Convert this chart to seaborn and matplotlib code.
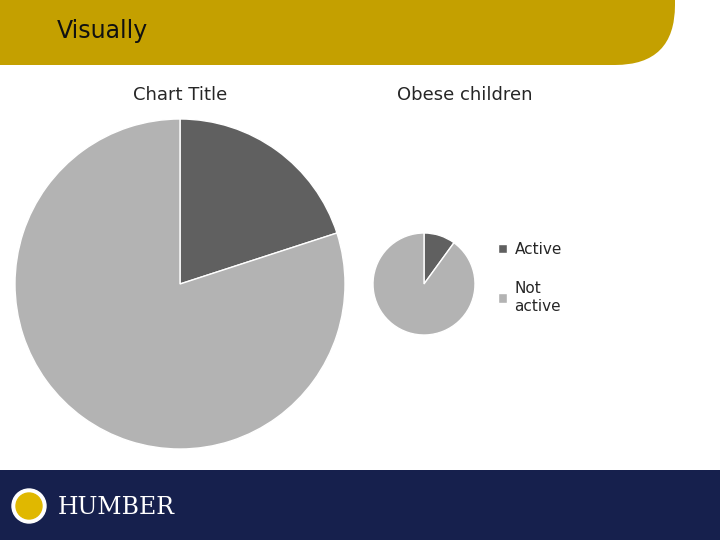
import matplotlib
matplotlib.use("Agg")
import matplotlib.pyplot as plt
import seaborn as sns
from matplotlib.patches import FancyBboxPatch, Rectangle, Circle

sns.set_theme(style="white")
plt.rcParams['font.family'] = ['DejaVu Sans']

labels = ["Active", "Not active"]
chart_title_vals = [20, 80]
obese_vals = [10, 90]
colors = ["#606060", "#b3b3b3"]

fig = plt.figure(figsize=(7.2, 5.4), dpi=100)

# header and footer
bg = fig.add_axes([0, 0, 1, 1])
bg.set_xlim(0, 720)
bg.set_ylim(540, 0)
bg.axis("off")
bg.add_patch(FancyBboxPatch((-60, -60), 735, 125, boxstyle="round,pad=0,rounding_size=60",
                            color="#c4a000", lw=0))
bg.add_patch(Rectangle((0, 470), 720, 70, color="#16204d", lw=0))
bg.add_patch(Circle((29, 506), 17, color="white"))
bg.add_patch(Circle((29, 506), 13, color="#e0b800"))
bg.text(58, 507, "HUMBER", color="white", fontsize=17, family="serif",
        va="center", ha="left")
bg.text(57, 31, "Visually", fontsize=17, color="#111111", va="center")

# left pie
ax1 = fig.add_axes([15 / 720, 1 - 449 / 540, 330 / 720, 330 / 540])
ax1.pie(chart_title_vals, colors=colors, startangle=90, counterclock=False,
        wedgeprops=dict(edgecolor="white", linewidth=1))
ax1.set_xlim(-1, 1)
ax1.set_ylim(-1, 1)
ax1.set_aspect("equal")
fig.text(180 / 720, 1 - 95 / 540, "Chart Title", ha="center", va="center", fontsize=13)

# right pie
ax2 = fig.add_axes([373 / 720, 1 - 335 / 540, 102 / 720, 102 / 540])
wedges, _ = ax2.pie(obese_vals, colors=colors, startangle=90, counterclock=False,
                    wedgeprops=dict(edgecolor="white", linewidth=1))
ax2.set_xlim(-1, 1)
ax2.set_ylim(-1, 1)
ax2.set_aspect("equal")
fig.text(465 / 720, 1 - 95 / 540, "Obese children", ha="center", va="center", fontsize=13)

fig.legend(wedges, ["Active", "Not\nactive"], loc="upper left",
           bbox_to_anchor=(484 / 720, 1 - 228 / 540), frameon=False,
           fontsize=11, handlelength=0.6, handleheight=0.6, labelspacing=1.6,
           handletextpad=0.5)

fig.savefig("out.png", dpi=100)
